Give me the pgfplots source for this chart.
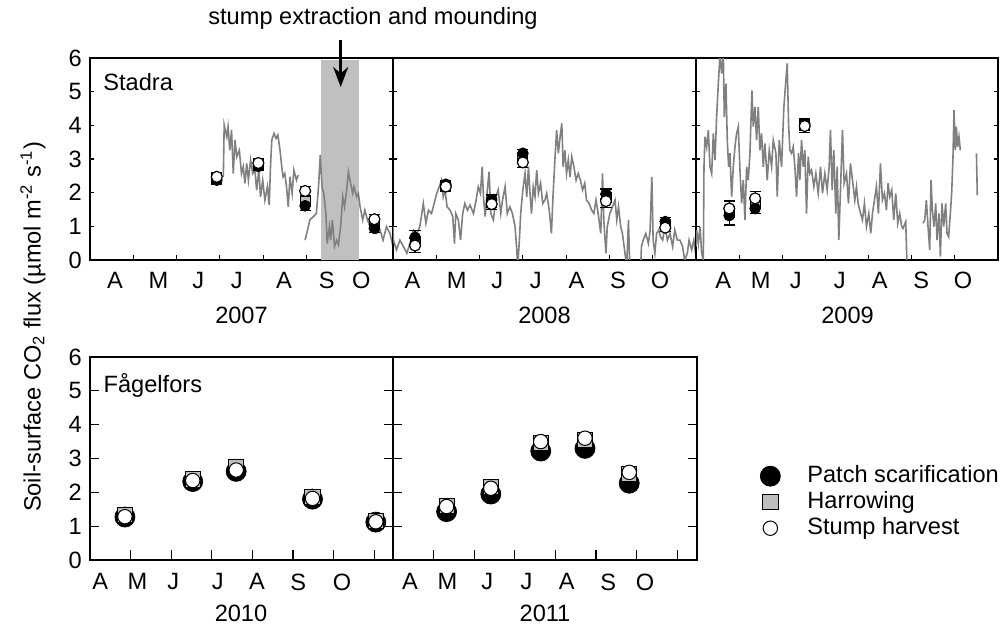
\documentclass[border=0pt]{standalone}
\usepackage{fontspec}
\setmainfont{Liberation Sans}
\usepackage{pgfplots}
\pgfplotsset{compat=1.18}
\usetikzlibrary{arrows.meta}
\definecolor{lineg}{RGB}{128,128,128}
\definecolor{shadeg}{RGB}{192,192,192}
\definecolor{sqg}{RGB}{190,190,190}
\pgfplotsset{
  panel/.style={scale only axis, anchor=south west, xmin=4, ymin=0, ymax=6,
    ytick={0,...,6}, ytick pos=both, xtick pos=left, tick align=inside,
    axis line style={line width=0.7pt},
    every tick/.append style={black, line width=0.6pt},
    major x tick style={draw=none},
    /pgf/number format/assume math mode=true,
    unbounded coords=jump},
  toprow/.style={panel, width=151.5pt, height=101pt, xmax=11,
    minor xtick={5,...,10}, minor tick length=2.4pt, major tick length=2.2pt,
    xticklabel style={yshift=-2pt}},
  botrow/.style={panel, height=101.5pt,
    minor xtick={5,...,11}, minor tick length=5pt, major tick length=4.5pt,
    xticklabel style={yshift=-2.7pt}},
  flux/.style={color=lineg, line width=0.8pt, no marks},
  ebar/.style={error bars/.cd, y dir=both, y explicit,
    error bar style={black, line width=0.6pt},
    error mark options={rotate=90, black, mark size=2.8pt, line width=0.6pt}},
  patchT/.style={only marks, mark=*, mark size=2.7pt, mark options={draw=black, fill=black}, ebar},
  harrT/.style={only marks, mark=square*, mark size=2.5pt, mark options={draw=black, fill=sqg, line width=0.4pt}},
  stumpT/.style={only marks, mark=*, mark size=2.75pt, mark options={draw=black, fill=white, line width=0.6pt}, ebar},
  patchB/.style={only marks, mark=*, mark size=5pt, mark options={draw=black, fill=black}},
  harrB/.style={only marks, mark=square*, mark size=3.8pt, mark options={draw=black, fill=sqg, line width=0.4pt}},
  stumpB/.style={only marks, mark=*, mark size=3.6pt, mark options={draw=black, fill=white, line width=0.5pt}},
}
\begin{document}
\fontsize{11.8}{14}\selectfont
\begin{tikzpicture}
\path[use as bounding box] (0,0) rectangle (503.5pt,313.5pt);

% ---------------- 2007 ----------------
\begin{axis}[toprow, at={(45pt,183.5pt)},
  xtick={4.58,5.58,6.50,7.39,8.48,9.47,10.27},
  xticklabels={A,M,J,J,A,S,O}]
\addplot[fill=shadeg, draw=none] coordinates {(9.33,0) (9.33,5.93) (10.22,5.93) (10.22,0)} -- cycle;
\addplot[flux] coordinates {
(7.08,2.47)(7.10,4.01)(7.16,3.66)(7.19,3.96)(7.23,3.26)(7.27,3.86)(7.31,2.57)(7.35,3.56)(7.39,3.07)(7.45,3.26)(7.50,2.57)(7.54,2.77)(7.58,2.28)(7.62,2.87)(7.66,2.37)(7.71,2.97)(7.76,2.57)(7.81,2.67)(7.85,2.08)(7.90,2.67)(7.94,1.88)(7.99,2.37)(8.04,1.78)(8.10,2.18)(8.14,1.63)(8.17,2.77)(8.20,3.56)(8.25,3.76)(8.30,3.61)(8.34,3.71)(8.39,3.26)(8.43,2.77)(8.46,2.47)(8.50,2.57)(8.54,2.18)(8.58,1.58)(8.62,2.47)(8.67,1.98)(8.71,2.67)(8.77,2.37)(8.81,2.52)(8.89,nan)(8.97,0.59)(9.08,1.19)(9.16,1.29)(9.23,1.38)(9.28,2.18)(9.32,3.12)(9.36,2.18)(9.40,1.98)(9.45,1.38)(9.48,0.49)(9.53,0.99)(9.56,0.59)(9.60,1.19)(9.65,0.40)(9.70,0.59)(9.74,0.45)(9.79,0.99)(9.84,1.88)(9.88,1.58)(9.93,2.08)(9.97,2.62)(10.02,2.28)(10.07,1.98)(10.10,2.18)(10.16,1.88)(10.20,1.98)(10.24,1.58)(10.30,1.19)(10.35,1.48)(10.41,1.19)(10.47,0.99)(10.54,0.89)(10.62,0.79)(10.70,0.89)(10.77,0.59)(10.85,0.99)(10.93,0.79)(11.0,0.40)};
\addplot[harrT] coordinates {(6.93,2.42)(7.89,2.83)(8.97,1.75)(10.57,1.07)};
\addplot[patchT] coordinates {(6.93,2.37)+-(0,0.13) (7.89,2.78)+-(0,0.13) (8.97,1.61)+-(0,0.15) (10.57,0.94)+-(0,0.12)};
\addplot[stumpT] coordinates {(6.93,2.47)+-(0,0.13) (7.89,2.88)+-(0,0.13) (8.97,2.05)+-(0,0.13) (10.57,1.21)+-(0,0.13)};
\end{axis}

% ---------------- 2008 ----------------
\begin{axis}[toprow, at={(196.5pt,183.5pt)}, yticklabels={},
  xtick={4.45,5.47,6.41,7.30,8.24,9.20,10.17},
  xticklabels={A,M,J,J,A,S,O}]
\addplot[flux] coordinates {
(4.0,0.99)(4.01,0.59)(4.08,0.30)(4.16,0.59)(4.24,0.40)(4.32,0.20)(4.39,0.49)(4.47,0.89)(4.55,0.79)(4.62,0.99)(4.70,1.68)(4.76,1.09)(4.82,1.48)(4.89,1.38)(4.97,1.78)(5.01,1.98)(5.07,2.18)(5.12,2.37)(5.16,1.88)(5.20,2.08)(5.25,1.58)(5.32,1.48)(5.38,1.29)(5.42,0.49)(5.45,1.38)(5.51,1.19)(5.56,0.59)(5.61,1.38)(5.66,1.68)(5.72,1.48)(5.78,1.63)(5.86,1.38)(5.92,1.78)(5.97,2.18)(6.02,1.98)(6.06,2.77)(6.09,1.88)(6.13,1.29)(6.18,2.08)(6.22,2.62)(6.26,1.38)(6.32,1.19)(6.38,1.88)(6.43,2.08)(6.49,1.38)(6.53,1.78)(6.59,2.18)(6.64,1.38)(6.70,1.58)(6.76,1.38)(6.82,0.99)(6.86,0.30)(6.88,-0.2)(6.92,0.59)(6.95,1.38)(7.00,2.08)(7.05,2.57)(7.09,1.88)(7.13,2.77)(7.16,2.08)(7.20,1.38)(7.24,2.18)(7.28,1.88)(7.32,2.67)(7.36,1.98)(7.41,2.28)(7.46,1.68)(7.51,1.78)(7.55,1.98)(7.61,1.48)(7.66,0.79)(7.70,1.98)(7.74,2.97)(7.78,3.86)(7.82,3.17)(7.86,3.66)(7.90,4.06)(7.93,2.77)(7.97,3.26)(8.01,2.57)(8.05,2.97)(8.09,2.47)(8.13,3.07)(8.18,2.77)(8.23,2.37)(8.28,2.57)(8.33,2.37)(8.38,2.08)(8.43,2.28)(8.47,1.78)(8.53,1.68)(8.59,1.48)(8.64,1.38)(8.69,1.78)(8.74,1.38)(8.80,0.79)(8.84,2.57)(8.87,1.19)(8.92,0.20)(8.95,0.99)(9.01,1.38)(9.07,1.58)(9.13,1.78)(9.17,1.19)(9.21,1.58)(9.26,0.99)(9.30,0.79)(9.36,0.20)(9.40,-0.2)(9.44,1.19)(9.47,-0.2)(9.51,-0.3)(9.72,-0.3)(9.74,0.40)(9.78,0.59)(9.84,0.79)(9.90,0.49)(9.94,0.89)(9.98,2.47)(10.01,0.59)(10.05,0.20)(10.09,0.79)(10.14,0.89)(10.18,0.69)(10.23,0.59)(10.28,0.99)(10.34,0.59)(10.40,0.79)(10.46,0.40)(10.51,0.89)(10.57,0.59)(10.63,0.59)(10.69,0.40)(10.74,0.0)(10.80,0.20)(10.84,0.59)(10.90,0.30)(10.95,0.59)(11.0,0.10)};
\addplot[harrT] coordinates {(4.51,0.55)(5.22,2.20)(6.28,1.72)(7.00,3.03)(8.92,1.85)(10.29,1.05)};
\addplot[patchT] coordinates {(4.51,0.67)+-(0,0.2) (5.22,2.25)+-(0,0.12) (6.28,1.78)+-(0,0.15) (7.00,3.17)+-(0,0.12) (8.92,1.96)+-(0,0.15) (10.29,1.14)+-(0,0.12)};
\addplot[stumpT] coordinates {(4.51,0.43)+-(0,0.2) (5.22,2.18)+-(0,0.15) (6.28,1.66)+-(0,0.15) (7.00,2.90)+-(0,0.15) (8.92,1.75)+-(0,0.2) (10.29,0.96)+-(0,0.12)};
\end{axis}

% ---------------- 2009 ----------------
\begin{axis}[toprow, at={(348pt,183.5pt)}, width=151pt, yticklabels={},
  xtick={4.63,5.50,6.31,7.33,8.26,9.22,10.19},
  xticklabels={A,M,J,J,A,S,O}]
\addplot[flux] coordinates {
(4.0,0.40)(4.015,0.89)(4.054,0.49)(4.093,0.99)(4.131,0.20)(4.170,0.0)(4.185,2.77)(4.208,3.66)(4.247,3.36)(4.285,3.86)(4.324,2.77)(4.363,2.57)(4.401,3.76)(4.440,2.97)(4.478,4.25)(4.517,5.24)(4.556,6.1)(4.594,5.54)(4.633,6.1)(4.656,4.25)(4.694,5.24)(4.725,3.56)(4.756,2.77)(4.787,3.17)(4.826,1.88)(4.864,2.77)(4.903,3.36)(4.941,3.76)(4.980,3.96)(5.019,2.67)(5.057,1.68)(5.096,2.37)(5.134,1.19)(5.173,2.77)(5.211,2.37)(5.250,3.17)(5.296,5.04)(5.327,3.96)(5.366,4.55)(5.404,3.56)(5.443,4.55)(5.481,3.26)(5.520,3.76)(5.559,2.77)(5.597,3.46)(5.651,2.37)(5.698,3.26)(5.752,2.77)(5.790,3.56)(5.852,3.17)(5.883,1.88)(5.929,3.56)(5.983,2.77)(6.037,4.55)(6.083,5.34)(6.114,5.84)(6.145,4.06)(6.176,3.26)(6.214,3.17)(6.253,3.36)(6.292,2.77)(6.330,1.88)(6.377,3.17)(6.407,2.37)(6.446,3.56)(6.485,2.77)(6.523,3.26)(6.562,1.38)(6.600,3.07)(6.639,2.57)(6.678,2.67)(6.731,2.18)(6.778,2.57)(6.832,1.98)(6.886,2.77)(6.932,1.98)(6.986,2.57)(7.040,2.08)(7.086,2.77)(7.117,3.86)(7.156,2.08)(7.194,3.26)(7.241,1.38)(7.272,2.77)(7.310,0.59)(7.349,2.08)(7.395,3.86)(7.434,2.28)(7.488,2.57)(7.534,1.68)(7.580,2.87)(7.627,2.37)(7.681,1.78)(7.719,2.18)(7.758,1.68)(7.796,1.48)(7.858,1.19)(7.904,1.68)(7.951,0.99)(8.005,1.38)(8.051,0.79)(8.090,1.38)(8.136,1.78)(8.182,2.18)(8.228,1.38)(8.275,2.87)(8.321,1.78)(8.367,1.98)(8.414,1.48)(8.452,2.28)(8.491,1.88)(8.537,2.08)(8.583,1.19)(8.630,1.98)(8.676,1.09)(8.722,1.38)(8.769,0.99)(8.799,0.94)(8.861,1.14)(8.892,-0.2)(9.0,nan)(9.262,1.09)(9.301,1.19)(9.340,1.78)(9.378,0.99)(9.417,0.30)(9.448,2.37)(9.478,1.48)(9.517,0.99)(9.556,1.68)(9.586,0.59)(9.633,1.38)(9.664,0.10)(9.702,1.68)(9.741,0.99)(9.787,1.68)(9.818,0.79)(9.856,0.69)(9.895,1.38)(9.926,1.98)(9.957,3.07)(9.980,4.45)(10.011,3.26)(10.034,3.96)(10.065,3.36)(10.096,3.66)(10.127,3.26)(10.3,nan)(10.50,3.17)(10.52,1.93)};
\addplot[harrT] coordinates {(4.77,1.42)(5.37,1.68)(6.52,4.00)};
\addplot[patchT] coordinates {(4.77,1.32)+-(0,0.28) (5.37,1.53)+-(0,0.15) (6.52,4.05)+-(0,0.15)};
\addplot[stumpT] coordinates {(4.77,1.53)+-(0,0.22) (5.37,1.83)+-(0,0.2) (6.52,3.98)+-(0,0.2)};
\end{axis}

% ---------------- 2010 ----------------
\begin{axis}[botrow, at={(45pt,33.5pt)}, width=151.5pt, xmax=11.463,
  xtick={4.25,5.17,6.05,7.15,8.11,9.13,10.21},
  xticklabels={A,M,J,J,A,S,O}]
\addplot[patchB] coordinates {(4.86,1.27)(6.53,2.32)(7.60,2.62)(9.48,1.80)(11.04,1.12)};
\addplot[harrB] coordinates {(4.86,1.33)(6.53,2.38)(7.60,2.75)(9.48,1.86)(11.04,1.15)};
\addplot[stumpB] coordinates {(4.86,1.28)(6.53,2.35)(7.60,2.66)(9.48,1.82)(11.04,1.13)};
\end{axis}

% ---------------- 2011 ----------------
\begin{axis}[botrow, at={(196.5pt,33.5pt)}, width=152pt, xmax=11.49, yticklabels={},
  xtick={4.42,5.34,6.32,7.29,8.28,9.30,10.21},
  xticklabels={A,M,J,J,A,S,O},
  legend cell align=left,
  legend style={draw=none, fill=none, at={(1.207,0.469)}, anchor=north west,
    inner sep=0pt, row sep=2pt,
    nodes={inner sep=0pt, text height=8.5pt, text depth=2.5pt},
    /tikz/every odd column/.append style={column sep=13.5pt}}]
\addplot[patchB] coordinates {(5.32,1.43)(6.41,1.95)(7.64,3.22)(8.73,3.30)(9.82,2.27)};
\addlegendentry{Patch scarification}
\addplot[harrB] coordinates {(5.32,1.60)(6.41,2.15)(7.64,3.45)(8.73,3.55)(9.82,2.55)};
\addlegendentry{Harrowing}
\addplot[stumpB] coordinates {(5.32,1.58)(6.41,2.12)(7.64,3.50)(8.73,3.60)(9.82,2.59)};
\addlegendentry{Stump harvest}
\end{axis}

% ---------------- annotations ----------------
\node at (186.5pt,304.5pt) {stump extraction and mounding};
\draw[line width=1.3pt, -{Stealth[length=10pt,width=7.5pt]}] (170.35pt,293.5pt) -- (170.35pt,270pt);
\node[anchor=west, inner sep=0pt] at (51.5pt,272.5pt) {Stadra};
\node[anchor=west, inner sep=0pt] at (51.65pt,121pt) {Fågelfors};
\node at (120.75pt,156pt) {2007};
\node at (272.25pt,156pt) {2008};
\node at (423.75pt,156pt) {2009};
\node at (120.5pt,7pt) {2010};
\node at (272.5pt,7pt) {2011};
\node[rotate=90] at (16.5pt,150pt) {Soil-surface CO\textsubscript{2} flux (µmol m\textsuperscript{-2} s\textsuperscript{-1})};
\end{tikzpicture}
\end{document}
